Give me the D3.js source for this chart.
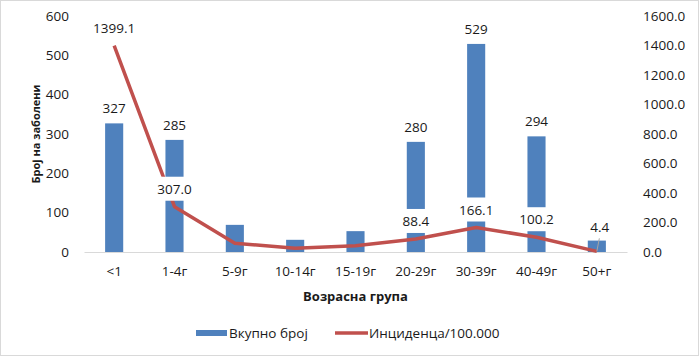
<!DOCTYPE html>
<html>
<head>
<meta charset="utf-8">
<script src="https://cdn.jsdelivr.net/npm/d3@7/dist/d3.min.js"></script>
<style>
  html, body { margin: 0; padding: 0; background: #fff; }
  svg { display: block; }
  text { font-family: "Open Sans", "DejaVu Sans", sans-serif; fill: #1a1a1a; }
</style>
</head>
<body>
<svg id="chart" width="700" height="358"></svg>
<script>
const categories = ["<1", "1-4г", "5-9г", "10-14г", "15-19г", "20-29г", "30-39г", "40-49г", "50+г"];
const totalCases = [327, 285, 69, 31, 53, 280, 529, 294, 29];
const totalLabelShown = [true, true, false, false, false, true, true, true, false];
const incidence = [1399.1, 307.0, 60, 25, 43, 88.4, 166.1, 100.2, 4.4];
const incidenceLabelShown = [true, true, false, false, false, true, true, true, true];
const leftTicks = [0, 100, 200, 300, 400, 500, 600];
const rightTicks = [0, 200, 400, 600, 800, 1000, 1200, 1400, 1600];
const seriesNames = ["Вкупно број", "Инциденца/100.000"];
const axisTitles = { y: "Број на заболени", x: "Возрасна група" };

const svg = d3.select("#chart");
const plot = { left: 84, right: 627, top: 16, bottom: 252 };
const barColor = "#4F81BD", lineColor = "#C0504D";
const FS = "13.5px";

svg.append("rect").attr("x", 0.5).attr("y", 0.5).attr("width", 698).attr("height", 355)
  .attr("fill", "#fff").attr("stroke", "#D9D9D9");

const x = d3.scaleBand().domain(categories).range([plot.left, plot.right])
  .paddingInner(0.7).paddingOuter(0.35);
const yL = d3.scaleLinear().domain([0, 600]).range([plot.bottom, plot.top]);
const yR = d3.scaleLinear().domain([0, 1600]).range([plot.bottom, plot.top]);
const cx = c => x(c) + x.bandwidth() / 2;

// left axis
const axL = svg.append("g").attr("transform", `translate(${plot.left},0)`)
  .call(d3.axisLeft(yL).tickValues(leftTicks).tickSize(0).tickPadding(15));
axL.select(".domain").remove();
axL.selectAll("text").style("font-size", FS).attr("fill", "#1a1a1a")
  .style("font-family", "'Open Sans', sans-serif");

// right axis
const axR = svg.append("g").attr("transform", `translate(${plot.right},0)`)
  .call(d3.axisRight(yR).tickValues(rightTicks).tickSize(0).tickPadding(16).tickFormat(d3.format(".1f")));
axR.select(".domain").remove();
axR.selectAll("text").style("font-size", FS).attr("fill", "#1a1a1a")
  .style("font-family", "'Open Sans', sans-serif");

// bars
svg.append("g").selectAll("rect").data(categories).join("rect")
  .attr("x", d => x(d)).attr("width", x.bandwidth())
  .attr("y", (d, i) => yL(totalCases[i]))
  .attr("height", (d, i) => yL(0) - yL(totalCases[i]))
  .attr("fill", barColor);

// x axis
const axB = svg.append("g").attr("transform", `translate(0,${plot.bottom})`)
  .call(d3.axisBottom(x).tickSize(0).tickPadding(14));
axB.select(".domain").attr("stroke", "#D9D9D9").attr("stroke-width", 1.2);
axB.selectAll("text").style("font-size", FS).attr("fill", "#1a1a1a")
  .style("font-family", "'Open Sans', sans-serif");

// bar labels
svg.append("g").selectAll("text").data(categories.filter((d, i) => totalLabelShown[i])).join("text")
  .attr("x", d => cx(d)).attr("y", d => yL(totalCases[categories.indexOf(d)]) - 15)
  .attr("text-anchor", "middle").attr("dominant-baseline", "central")
  .style("font-size", FS)
  .text(d => totalCases[categories.indexOf(d)]);

// line
const line = d3.line().x((d, i) => cx(categories[i])).y(d => yR(d));
svg.append("path").datum(incidence).attr("d", line)
  .attr("fill", "none").attr("stroke", lineColor).attr("stroke-width", 3.5)
  .attr("stroke-linejoin", "round");

// line labels with white boxes
const lab = svg.append("g");
categories.forEach((c, i) => {
  if (!incidenceLabelShown[i]) return;
  const last = i === categories.length - 1;
  const px = cx(c), py = yR(incidence[i]);
  const tx = last ? px + 3 : px;
  const ty = last ? py - 24 : py - 18;
  const g = lab.append("g");
  const rect = g.append("rect").attr("fill", "#fff");
  const t = g.append("text").attr("x", tx).attr("y", ty)
    .attr("text-anchor", "middle").attr("dominant-baseline", "central")
    .style("font-size", FS).text(d3.format(".1f")(incidence[i]));
  const bb = t.node().getBBox();
  if (!last) rect.attr("x", bb.x - 2).attr("y", ty - 12).attr("width", bb.width + 4).attr("height", 24);
  if (last) {
    lab.append("line").attr("x1", px + 2.5).attr("y1", ty + 11).attr("x2", px).attr("y2", py)
      .attr("stroke", "#A6A6A6").attr("stroke-width", 1);
  }
});

// axis titles
svg.append("text").attr("transform", `translate(35,${(plot.top + plot.bottom) / 2}) rotate(-90)`)
  .attr("text-anchor", "middle").attr("dominant-baseline", "central")
  .style("font-size", "11px").style("font-weight", "bold").text(axisTitles.y);
svg.append("text").attr("x", (plot.left + plot.right) / 2).attr("y", 296)
  .attr("text-anchor", "middle").attr("dominant-baseline", "central")
  .style("font-size", "13px").style("font-weight", "bold").text(axisTitles.x);

// legend
const lg = svg.append("g");
lg.append("rect").attr("x", 196).attr("y", 330).attr("width", 31).attr("height", 6).attr("fill", barColor);
lg.append("text").attr("x", 229).attr("y", 333).attr("dominant-baseline", "central")
  .style("font-size", FS).text(seriesNames[0]);
lg.append("line").attr("x1", 335).attr("x2", 368).attr("y1", 333).attr("y2", 333)
  .attr("stroke", lineColor).attr("stroke-width", 3.5);
lg.append("text").attr("x", 369).attr("y", 333).attr("dominant-baseline", "central")
  .style("font-size", FS).text(seriesNames[1]);
</script>
</body>
</html>
